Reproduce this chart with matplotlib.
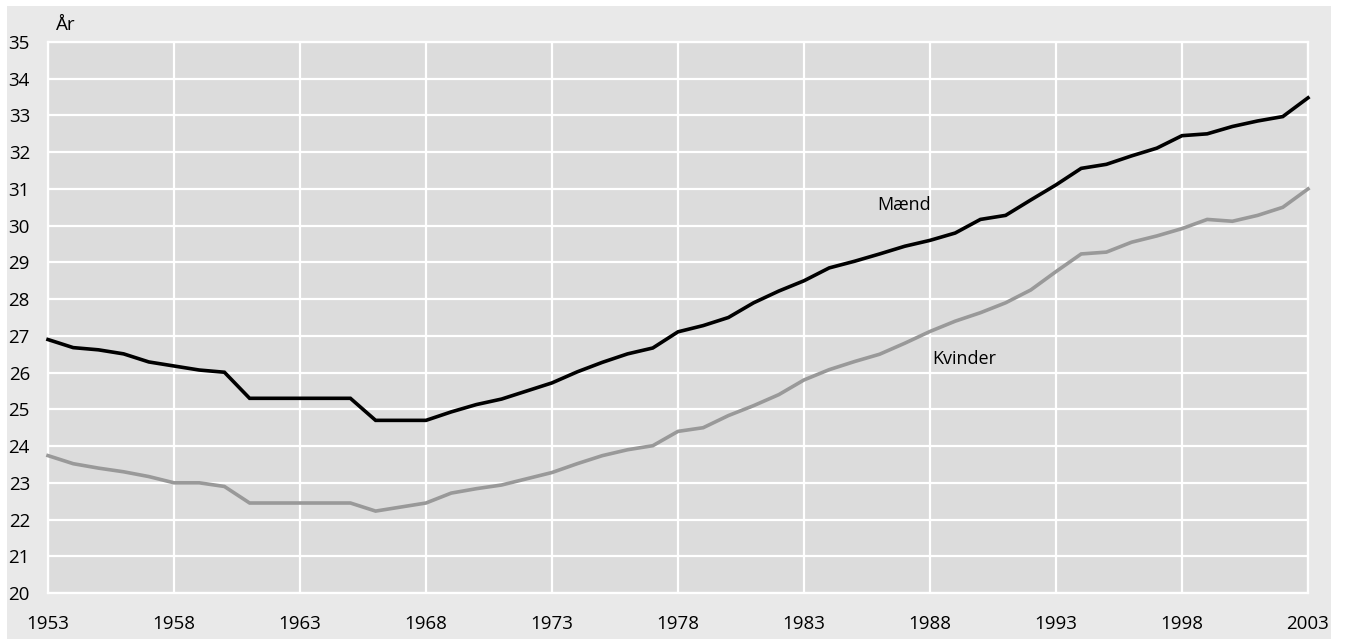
import matplotlib
matplotlib.use("Agg")
import matplotlib.pyplot as plt
from matplotlib.patches import Rectangle

years = list(range(1953, 2004))
maend = [26.9, 26.68, 26.62, 26.51, 26.29, 26.18, 26.07, 26.01,
         25.3, 25.3, 25.3, 25.3, 25.3, 24.7, 24.7, 24.7,
         24.93, 25.13, 25.28, 25.5, 25.72, 26.02, 26.28, 26.51, 26.67,
         27.11, 27.28, 27.5, 27.9, 28.22, 28.5, 28.85, 29.03, 29.23, 29.44,
         29.6, 29.8, 30.17, 30.28, 30.7, 31.11, 31.56, 31.67, 31.9, 32.11,
         32.45, 32.5, 32.7, 32.85, 32.97, 33.48]
kvinder = [23.74, 23.52, 23.4, 23.3, 23.17, 23.0, 23.0, 22.9,
           22.45, 22.45, 22.45, 22.45, 22.45, 22.23, 22.34, 22.45,
           22.72, 22.84, 22.94, 23.11, 23.28, 23.52, 23.74, 23.9, 24.01,
           24.4, 24.5, 24.83, 25.1, 25.4, 25.8, 26.08, 26.3, 26.5, 26.8,
           27.12, 27.4, 27.63, 27.9, 28.25, 28.75, 29.23, 29.28, 29.55, 29.72,
           29.92, 30.17, 30.12, 30.28, 30.5, 31.0]
x_ticks = list(range(1953, 2004, 5))
y_ticks = list(range(20, 36))

plt.rcParams['font.family'] = ['Open Sans', 'DejaVu Sans']

W, H = 1345, 639
fig = plt.figure(figsize=(W / 100, H / 100), dpi=100, facecolor='white')
bg = Rectangle((7 / W, 0), (1331 - 7) / W, (H - 6) / H,
               transform=fig.transFigure, facecolor='#e9e9e9',
               edgecolor='none', zorder=-10)
fig.patches.append(bg)

ax = fig.add_axes([48 / W, 1 - 593 / H, (1308 - 48) / W, (593 - 42) / H])
ax.set_zorder(1)
ax.set_facecolor('#dcdcdc')
ax.set_xlim(1953, 2003)
ax.set_ylim(20, 35)
ax.set_xticks(x_ticks)
ax.set_yticks(y_ticks)
ax.grid(True, color='white', linewidth=1.6)
ax.set_axisbelow(True)
for s in ax.spines.values():
    s.set_color('white')
    s.set_linewidth(1.6)
ax.tick_params(length=0, labelsize=13.5, colors='black')
ax.tick_params(axis='y', pad=13)
ax.tick_params(axis='x', pad=16)

ax.plot(years, maend, color='black', linewidth=2.6, solid_joinstyle='miter', zorder=3, clip_on=False)
ax.plot(years, kvinder, color='#999999', linewidth=2.6, solid_joinstyle='miter', zorder=3, clip_on=False)

ax.text(1985.9, 30.56, 'Mænd', fontsize=13, va='center', ha='left')
ax.text(1988.1, 26.37, 'Kvinder', fontsize=13, va='center', ha='left')
ax.text(1953.3, 35.46, 'År', fontsize=13.5, va='center', ha='left', clip_on=False)

fig.savefig('out.png', dpi=100, facecolor='white')
